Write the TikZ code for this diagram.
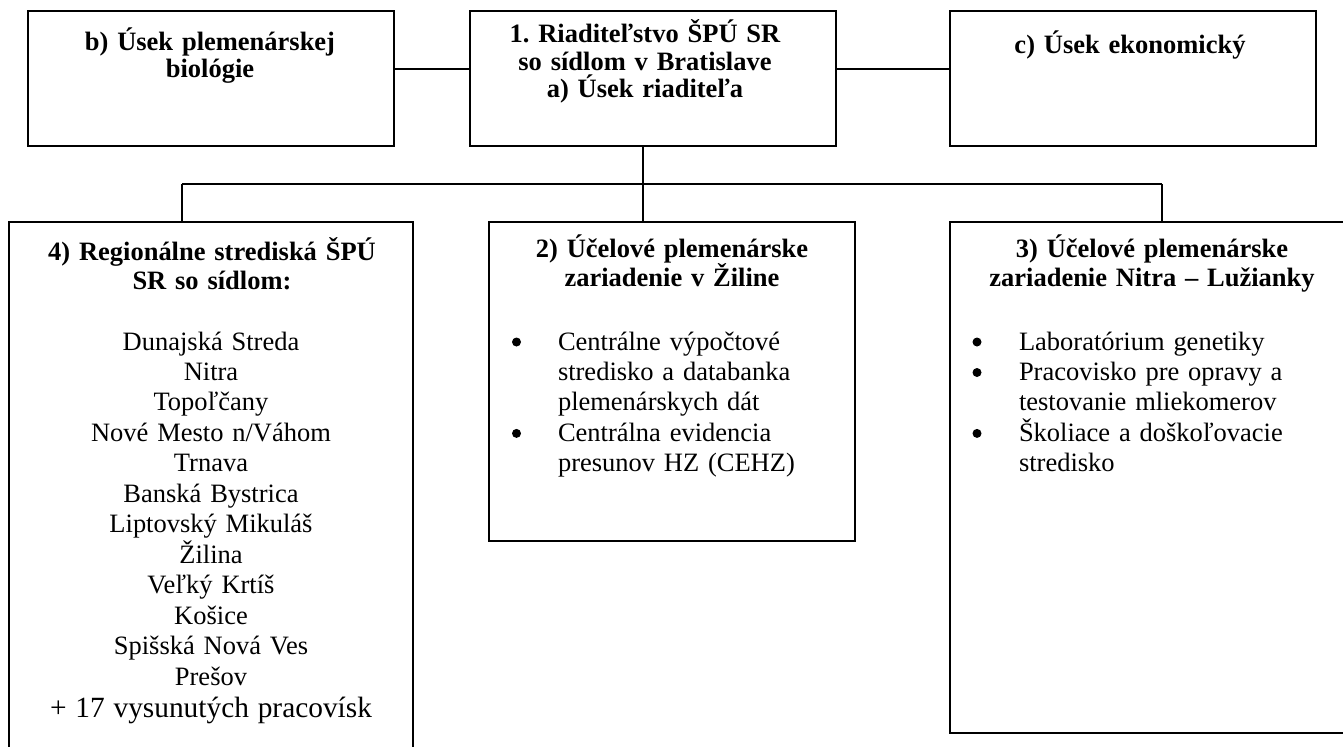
\documentclass[tikz,border=0pt]{standalone}
\usepackage{fontspec}
\setmainfont{Liberation Serif}
\frenchspacing
\newcommand\pxu{0.453pt}
\newcommand\myBody{\fontsize{12}{13.8}\selectfont}
\newcommand\myTop{\bfseries\fontsize{12}{12.45}\selectfont}
\newcommand\myHead{\bfseries\fontsize{12}{13.4}\selectfont}
\tikzset{
  box/.style={draw, line width=0.9pt, rectangle, inner sep=0pt, outer sep=0pt},
  conn/.style={line width=0.9pt},
  txt/.style={inner sep=0pt, outer sep=0pt, anchor=base, align=center, text width=#1},
  blist/.style={inner sep=0pt, outer sep=0pt, anchor=base west, align=left, text width=#1, font=\myBody},
  bul/.style={circle, fill=black, draw=none, inner sep=0pt, minimum size=9*\pxu},
}
\begin{document}
\begin{tikzpicture}[x=\pxu, y=-\pxu]
\useasboundingbox (0,0) rectangle (1343,746);
\clip (0,0) rectangle (1343,746);

% boxes
\node[box, minimum width=366*\pxu, minimum height=135*\pxu] (b) at (211,78.5) {};
\node[box, minimum width=366*\pxu, minimum height=135*\pxu] (dir) at (653,78.5) {};
\node[box, minimum width=366*\pxu, minimum height=135*\pxu] (c) at (1133,78.5) {};
\node[box, minimum width=404*\pxu, minimum height=540*\pxu] (r4) at (211,491.5) {};
\node[box, minimum width=366*\pxu, minimum height=319*\pxu] (z2) at (672,381) {};
\node[box, minimum width=440*\pxu, minimum height=511.5*\pxu] (n3) at (1170,477.25) {};

% connectors
\coordinate (ly) at (0,69);
\coordinate (jl) at (182,184);
\coordinate (jm) at (643,184);
\coordinate (jr) at (1162,184);
\draw[conn] (b.east |- ly) -- (dir.west |- ly);
\draw[conn] (dir.east |- ly) -- (c.west |- ly);
\draw[conn] (jl) -- (jr);
\draw[conn] (dir.south -| jm) -- (z2.north -| jm);
\draw[conn] (jl) -- (r4.north -| jl);
\draw[conn] (jr) -- (n3.north -| jr);

% texts
\node[txt=340*\pxu, font=\myTop] (tb) at (210,50) {b) Úsek plemenárskej\\biológie};
\node[txt=360*\pxu, font=\myTop] (tdir) at (645,42.7) {1. Riaditeľstvo ŠPÚ SR\\so sídlom v Bratislave\\a) Úsek riaditeľa};
\node[txt=360*\pxu, font=\myTop] (tc) at (1130,53) {c) Úsek ekonomický};

\node[txt=400*\pxu, font=\myHead] (t4) at (212,260) {4) Regionálne strediská ŠPÚ\\SR so sídlom:};
\node[txt=400*\pxu, font=\myBody] (l4) at (211,350) {Dunajská Streda\\Nitra\\Topoľčany\\Nové Mesto n/Váhom\\Trnava\\Banská Bystrica\\Liptovský Mikuláš\\Žilina\\Veľký Krtíš\\Košice\\Spišská Nová Ves\\Prešov\\[1.1pt]{\fontsize{13.3}{13.8}\selectfont + 17 vysunutých pracovísk}};

% box 2 list
\node[txt=360*\pxu, font=\myHead] (t2) at (672,257) {2) Účelové plemenárske\\zariadenie v Žiline};
\node[blist=290*\pxu] (l2) at (558,350) {Centrálne výpočtové\\stredisko a databanka\\plemenárskych dát\\Centrálna evidencia\\presunov HZ (CEHZ)};
\node[bul] (b21) at (516.5,342) {};
\node[bul] (b22) at (516.5,433.4) {};

% box 3 list
\node[txt=400*\pxu, font=\myHead] (t3) at (1152,257) {3) Účelové plemenárske\\zariadenie Nitra – Lužianky};
\node[blist=310*\pxu] (l3) at (1019,350) {Laboratórium genetiky\\Pracovisko pre opravy a\\testovanie mliekomerov\\Školiace a doškoľovacie\\stredisko};
\node[bul] (b31) at (977,342) {};
\node[bul] (b32) at (977,372.5) {};
\node[bul] (b33) at (977,433.4) {};
\end{tikzpicture}
\end{document}
